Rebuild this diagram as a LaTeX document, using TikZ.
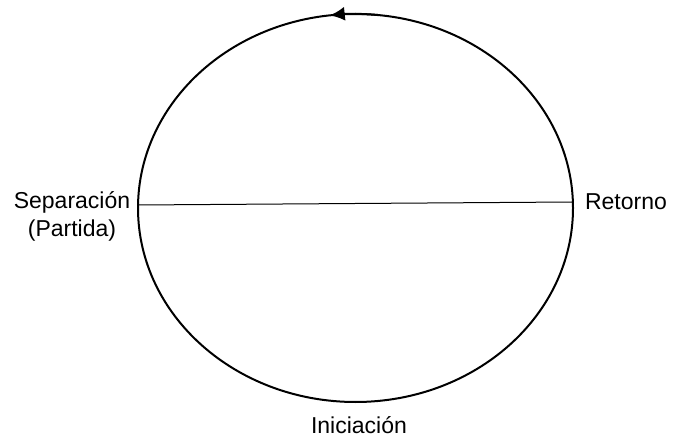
\documentclass[tikz,border=0pt]{standalone}
\usepackage{fontspec}
\setmainfont{Liberation Sans}
\usetikzlibrary{arrows.meta,shapes.geometric}

\begin{document}
\begin{tikzpicture} [
        x=1pt, y=1pt,
        etapa/.style={font=\fontsize{23}{28}\selectfont, align=center, inner sep=0pt},
        viaje/.style={ellipse, draw, line width=2pt, minimum width=435pt, minimum height=388pt, inner sep=0pt}
    ]

    \useasboundingbox (0,0) rectangle (677,437);

    % el ciclo
    \node[viaje](ciclo) at (355.5,229) {};
    \draw[line width=2pt, -{Latex[length=15pt,width=14pt]}]
        (ciclo.center) ++(84:217.5 and 194)
        arc[start angle=84, end angle=96.8, x radius=217.5, y radius=194];

    % la linea
    \coordinate (sep) at (138,232);
    \coordinate (ret) at (572,235);
    \draw[line width=1pt] (sep) -- (ret);

    \node[etapa](separacion) at (72,221) {Separación\\(Partida)};
    \node[etapa](retorno) at (626,235) {Retorno};
    \node[etapa](iniciacion) at (359,12) {Iniciación};

\end{tikzpicture}
\end{document}
